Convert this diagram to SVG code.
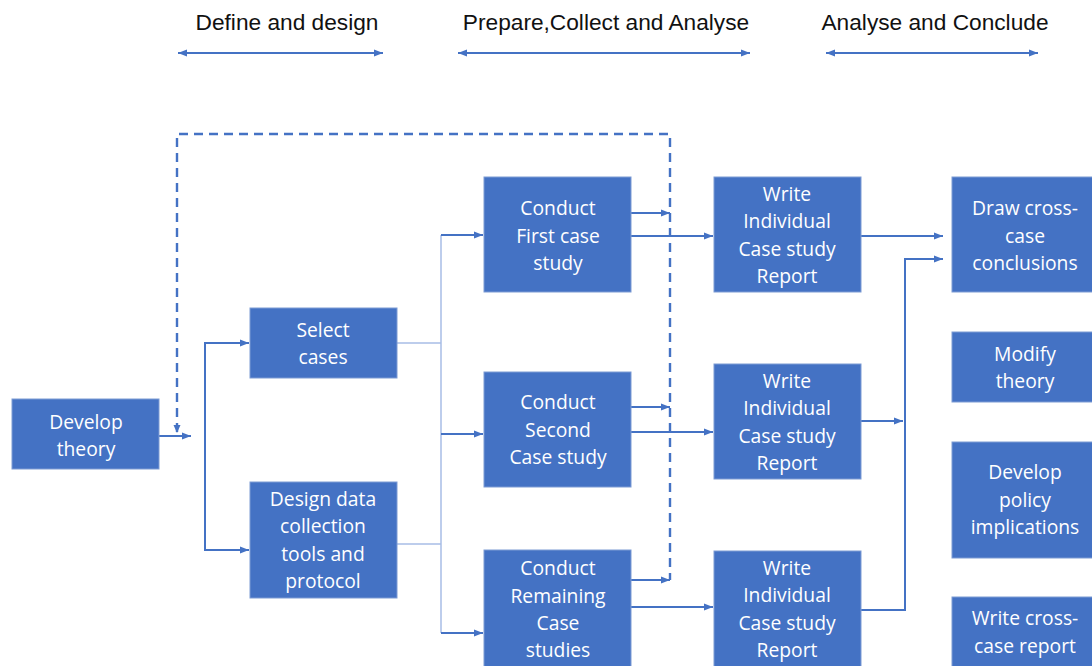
<svg xmlns="http://www.w3.org/2000/svg" width="1092" height="666" viewBox="0 0 1092 666">
  <style>
    .box { fill: #4472c4; stroke: #7c9bd4; stroke-width: 1; }
    .lbl { fill: #ffffff; font-family: "Open Sans", "Noto Sans", sans-serif; font-size: 19.3px; text-anchor: middle; }
    .hdr { fill: #111111; font-family: "Liberation Sans", Arial, sans-serif; font-size: 22.7px; text-anchor: middle; }
    .arr { fill: none; stroke: #4472c4; stroke-width: 2; marker-end: url(#tip); }
    .thin { fill: none; stroke: #a7bde6; stroke-width: 1.5; }
    .dash { fill: none; stroke: #4472c4; stroke-width: 2.4; stroke-dasharray: 9 6; }
    .span { fill: none; stroke: #4472c4; stroke-width: 2; marker-start: url(#tipS); marker-end: url(#tip); }
  </style>
  <defs>
    <marker id="tip" markerUnits="userSpaceOnUse" markerWidth="10" markerHeight="10" viewBox="0 0 10 10" refX="10" refY="5" orient="auto">
      <path d="M1,1.5 L10,5 L1,8.5 Z" fill="#4472c4"/>
    </marker>
    <marker id="tipS" markerUnits="userSpaceOnUse" markerWidth="10" markerHeight="10" viewBox="0 0 10 10" refX="0" refY="5" orient="auto">
      <path d="M9,1.5 L0,5 L9,8.5 Z" fill="#4472c4"/>
    </marker>
  </defs>
  <rect width="1092" height="666" fill="#ffffff"/>

  <!-- phase headers -->
  <g id="phases">
    <text class="hdr" x="287" y="30">Define and design</text>
    <text class="hdr" x="606" y="30">Prepare,Collect and Analyse</text>
    <text class="hdr" x="935" y="30">Analyse and Conclude</text>
    <path class="span" d="M178,53 H383"/>
    <path class="span" d="M458,53 H750"/>
    <path class="span" d="M826,53 H1038"/>
  </g>

  <!-- connectors -->
  <g id="connectors">
    <!-- feedback loop -->
    <path class="dash" d="M177,432 V134 H670 V580"/>
    <path d="M177,433 L173.5,425 L180.5,425 Z" fill="#4472c4"/>
    <path class="arr" d="M631,213 H670"/>
    <path class="arr" d="M631,407 H670"/>
    <path class="arr" d="M631,580 H670"/>

    <path class="arr" d="M159,436 H191"/>
    <path class="arr" d="M205,437 V343 H249"/>
    <path class="arr" d="M205,437 V550 H249"/>

    <path class="thin" d="M397,343 H441"/>
    <path class="thin" d="M397,544 H441"/>
    <path class="thin" d="M441,235 V633"/>
    <path class="arr" d="M441,235 H483"/>
    <path class="arr" d="M441,434 H483"/>
    <path class="arr" d="M441,633 H483"/>

    <path class="arr" d="M631,236 H713"/>
    <path class="arr" d="M631,432 H713"/>
    <path class="arr" d="M631,607 H713"/>

    <path class="arr" d="M861,236 H943"/>
    <path class="arr" d="M861,421 H903"/>
    <path class="arr" d="M861,610 H905 V259 H943"/>
  </g>

  <g id="develop-theory">
    <rect class="box" x="12" y="399" width="147" height="70"/>
    <text class="lbl" x="86" y="429">Develop</text>
    <text class="lbl" x="86" y="456">theory</text>
  </g>
  <g id="select-cases">
    <rect class="box" x="250" y="308" width="147" height="70"/>
    <text class="lbl" x="323" y="337">Select</text>
    <text class="lbl" x="323" y="364">cases</text>
  </g>
  <g id="design-data">
    <rect class="box" x="250" y="482" width="147" height="116"/>
    <text class="lbl" x="323" y="506">Design data</text>
    <text class="lbl" x="323" y="533">collection</text>
    <text class="lbl" x="323" y="561">tools and</text>
    <text class="lbl" x="323" y="588">protocol</text>
  </g>
  <g id="conduct-first">
    <rect class="box" x="484" y="177" width="147" height="115"/>
    <text class="lbl" x="558" y="215">Conduct</text>
    <text class="lbl" x="558" y="243">First case</text>
    <text class="lbl" x="558" y="270">study</text>
  </g>
  <g id="conduct-second">
    <rect class="box" x="484" y="372" width="147" height="115"/>
    <text class="lbl" x="558" y="409">Conduct</text>
    <text class="lbl" x="558" y="437">Second</text>
    <text class="lbl" x="558" y="464">Case study</text>
  </g>
  <g id="conduct-remaining">
    <rect class="box" x="484" y="550" width="147" height="125"/>
    <text class="lbl" x="558" y="575">Conduct</text>
    <text class="lbl" x="558" y="603">Remaining</text>
    <text class="lbl" x="558" y="630">Case</text>
    <text class="lbl" x="558" y="657">studies</text>
  </g>
  <g id="report-first">
    <rect class="box" x="714" y="177" width="147" height="115"/>
    <text class="lbl" x="787" y="201">Write</text>
    <text class="lbl" x="787" y="228">Individual</text>
    <text class="lbl" x="787" y="256">Case study</text>
    <text class="lbl" x="787" y="283">Report</text>
  </g>
  <g id="report-second">
    <rect class="box" x="714" y="364" width="147" height="115"/>
    <text class="lbl" x="787" y="388">Write</text>
    <text class="lbl" x="787" y="415">Individual</text>
    <text class="lbl" x="787" y="443">Case study</text>
    <text class="lbl" x="787" y="470">Report</text>
  </g>
  <g id="report-remaining">
    <rect class="box" x="714" y="551" width="147" height="125"/>
    <text class="lbl" x="787" y="575">Write</text>
    <text class="lbl" x="787" y="602">Individual</text>
    <text class="lbl" x="787" y="630">Case study</text>
    <text class="lbl" x="787" y="657">Report</text>
  </g>
  <g id="cross-case-conclusions">
    <rect class="box" x="952" y="177" width="147" height="115"/>
    <text class="lbl" x="1025" y="215">Draw cross-</text>
    <text class="lbl" x="1025" y="243">case</text>
    <text class="lbl" x="1025" y="270">conclusions</text>
  </g>
  <g id="modify-theory">
    <rect class="box" x="952" y="332" width="147" height="70"/>
    <text class="lbl" x="1025" y="361">Modify</text>
    <text class="lbl" x="1025" y="388">theory</text>
  </g>
  <g id="policy-implications">
    <rect class="box" x="952" y="442" width="147" height="116"/>
    <text class="lbl" x="1025" y="479">Develop</text>
    <text class="lbl" x="1025" y="507">policy</text>
    <text class="lbl" x="1025" y="534">implications</text>
  </g>
  <g id="cross-case-report">
    <rect class="box" x="952" y="597" width="147" height="80"/>
    <text class="lbl" x="1025" y="625">Write cross-</text>
    <text class="lbl" x="1025" y="653">case report</text>
  </g>
</svg>
